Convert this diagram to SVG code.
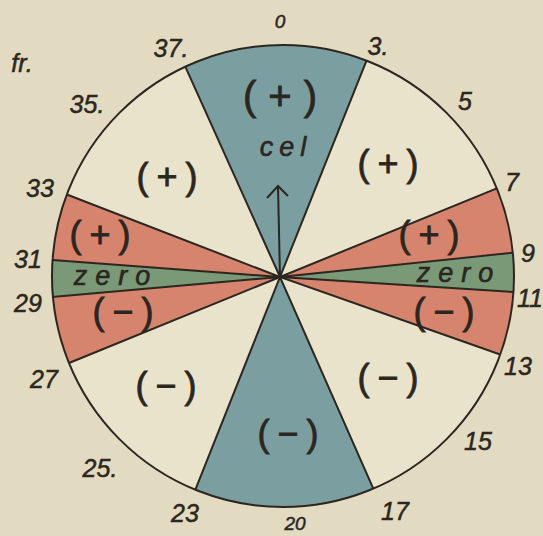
<svg xmlns="http://www.w3.org/2000/svg" width="543" height="536" viewBox="0 0 543 536">
<style>
.num{font-family:"Liberation Sans",Arial,sans-serif;font-style:italic;font-size:25px;fill:#2b2620;stroke:#2b2620;stroke-width:0.5px;text-anchor:middle}
.sm{font-size:19px}
.sign{font-family:"Liberation Sans",Arial,sans-serif;font-size:36px;fill:#2b2620;stroke:#2b2620;stroke-width:0.8px;text-anchor:middle;letter-spacing:8px}
.word{font-family:"Liberation Sans",Arial,sans-serif;font-style:italic;font-size:27px;fill:#2b2620;stroke:#2b2620;stroke-width:0.6px;text-anchor:middle}
.edge{stroke:#2b2620;stroke-width:2;fill:none}
.blue{fill:#7b9fa1}
.red{fill:#d7846f}
.green{fill:#7a9977}
</style>
<rect width="543" height="536" fill="#e2dbc1"/>
<g id="dial">
<circle cx="283" cy="276" r="231" fill="#e9e3cb"/>
</g>
<g id="sector-top">
<path class="blue" d="M280,277 L185.3,66.6 A231,231 0 0 1 366.5,60.6 Z"/>
</g>
<g id="sector-bottom">
<path class="blue" d="M280,277 L373.3,488.6 A231,231 0 0 1 195.3,489.8 Z"/>
</g>
<g id="sector-right">
<path class="red" d="M280,277 L496.8,188.4 A231,231 0 0 1 500.2,354.5 Z"/>
<path class="green" d="M280,277 L512.8,252.8 A231,231 0 0 1 513.4,292 Z"/>
</g>
<g id="sector-left">
<path class="red" d="M280,277 L66.8,194.5 A231,231 0 0 0 69,363 Z"/>
<path class="green" d="M280,277 L52.6,260 A231,231 0 0 0 52,297 Z"/>
</g>
<g id="connectors">
<circle cx="283" cy="276" r="231" class="edge" stroke-width="2.6"/>
<path class="edge" d="M185.3,66.6 L280,277 L366.5,60.6"/>
<path class="edge" d="M195.3,489.8 L280,277 L373.3,488.6"/>
<path class="edge" d="M496.8,188.4 L280,277 L500.2,354.5 M512.8,252.8 L280,277"/>
<path class="edge" stroke-width="3" d="M513.4,292 L280,277"/>
<path class="edge" d="M66.8,194.5 L280,277 L69,363 M52.6,260 L280,277 L52,297"/>
<path class="edge" stroke-width="3.2" d="M280,277 L278,186"/>
<path class="edge" stroke-width="2.2" d="M267,198 L278,186 L288,196"/>
</g>
<g id="labels">
<text class="num" x="22" y="72">fr.</text>
<text class="num sm" x="280" y="28">0</text>
<text class="num" x="171" y="57">37.</text>
<text class="num" x="378" y="55">3.</text>
<text class="num" x="465" y="110">5</text>
<text class="num" x="512" y="191">7</text>
<text class="num" x="528" y="262">9</text>
<text class="num" x="530" y="307">11</text>
<text class="num" x="518" y="375">13</text>
<text class="num" x="478" y="450">15</text>
<text class="num" x="395" y="520">17</text>
<text class="num sm" x="295" y="530">20</text>
<text class="num" x="185" y="522">23</text>
<text class="num" x="100" y="477">25.</text>
<text class="num" x="44" y="388">27</text>
<text class="num" x="28" y="312">29</text>
<text class="num" x="28" y="268">31</text>
<text class="num" x="40" y="197">33</text>
<text class="num" x="87" y="113">35.</text>
</g>
<g id="sector-texts">
<text class="sign" x="286" y="110" style="font-size:40px;letter-spacing:12px">(+)</text>
<text class="word" x="286" y="156" style="letter-spacing:6px">cel</text>
<text class="sign" x="171" y="189">(+)</text>
<text class="sign" x="392" y="176">(+)</text>
<text class="sign" x="104" y="247">(+)</text>
<text class="word" x="116" y="285" style="letter-spacing:8px">zero</text>
<text class="sign" x="127" y="324">(−)</text>
<text class="sign" x="433" y="247">(+)</text>
<text class="word" x="459" y="282" style="letter-spacing:8px">zero</text>
<text class="sign" x="448" y="324">(−)</text>
<text class="sign" x="170" y="398">(−)</text>
<text class="sign" x="392" y="390">(−)</text>
<text class="sign" x="292" y="446">(−)</text>
</g>
</svg>
